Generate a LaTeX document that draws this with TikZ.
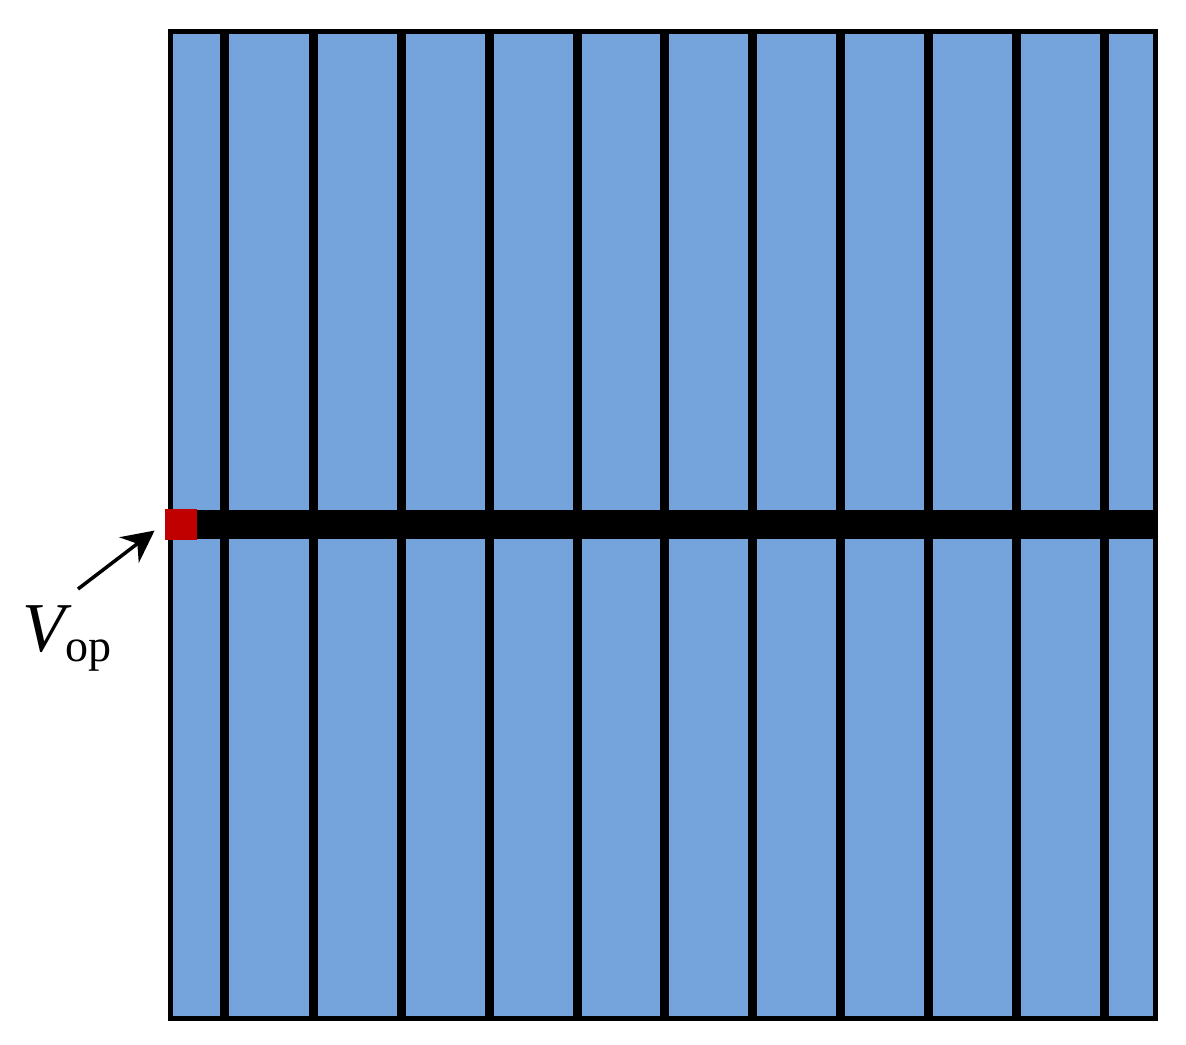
\documentclass[tikz,border=0pt]{standalone}
\usepackage{fontspec}
\setmainfont{Liberation Serif}
\usetikzlibrary{arrows.meta}
\newlength{\du}
\setlength{\du}{0.5pt}

\begin{document}
\begin{tikzpicture}
\pgftransformxscale{1.000000}
\pgftransformyscale{-1.000000}
\definecolor{cellcolor}{rgb}{0.459000, 0.639000, 0.863000}
\definecolor{padcolor}{rgb}{0.753000, 0.000000, 0.000000}
\useasboundingbox (0\du,0\du) rectangle (1186\du,1044\du);
% cells
\fill[cellcolor] (170.5\du,31.5\du) rectangle (1155.5\du,1018\du);
% fingers
\pgfsetlinewidth{9.000000\du}
\foreach \x in {224.5,313,401,489,577,664,752,840,928,1016,1104.5}
  \draw (\x\du,31.5\du)--(\x\du,1018\du);
% busbar
\fill (170.5\du,510\du) rectangle (1155.5\du,539\du);
% frame
\pgfsetlinewidth{5.000000\du}
\draw (170.5\du,31.5\du) rectangle (1155.5\du,1018\du);
% terminal
\node[fill=padcolor, minimum width=32\du, minimum height=31\du, inner sep=0pt] (pad) at (181\du,524.5\du) {};
\node[anchor=base west, inner sep=0pt] (vop) at (20\du,651\du) {{\fontsize{35pt}{40pt}\selectfont\textit{V}}\kern-3pt\raisebox{-5pt}{\fontsize{23pt}{27pt}\selectfont op}};
\coordinate (tail) at (78\du,589\du);
\pgfsetlinewidth{3.500000\du}
\draw[-{Stealth[length=16pt,width=16pt]}, shorten >=5pt] (tail)--(pad.west);
\end{tikzpicture}
\end{document}
